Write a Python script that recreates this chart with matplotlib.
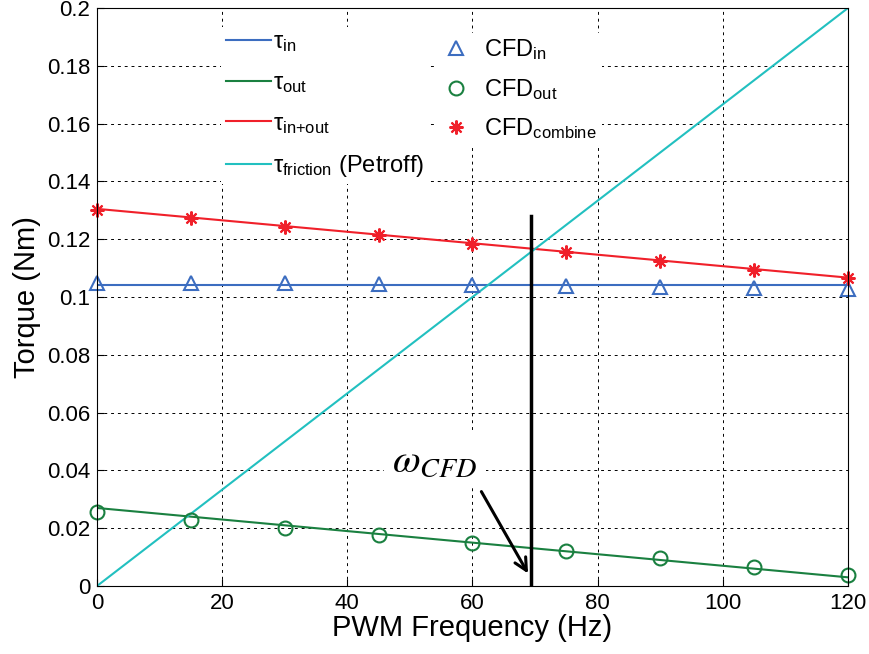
import numpy as np
import matplotlib
matplotlib.use('Agg')
import matplotlib.pyplot as plt
from matplotlib.lines import Line2D

plt.rcParams['font.family'] = ['Liberation Sans', 'DejaVu Sans']
plt.rcParams['mathtext.fontset'] = 'custom'
plt.rcParams['mathtext.rm'] = 'Liberation Sans'
plt.rcParams['mathtext.it'] = 'Liberation Sans'

# Linhas analíticas (extremos x=0 e x=120)
x_line = [0, 120]
tau_in = [0.104, 0.104]
tau_out = [0.027, 0.003]
tau_total = [0.1305, 0.1067]
tau_friction = [0.0, 0.2]

# Pontos CFD
x_cfd = [0, 15, 30, 45, 60, 75, 90, 105, 120]
cfd_in = [0.1050, 0.1050, 0.1047, 0.1045, 0.1043, 0.1037, 0.1033, 0.1030, 0.1026]
cfd_out = [0.0256, 0.0228, 0.0200, 0.0176, 0.0149, 0.0121, 0.0097, 0.0066, 0.0038]
cfd_comb = [0.1300, 0.1272, 0.1243, 0.1214, 0.1185, 0.1155, 0.1125, 0.1095, 0.1065]

# Marcação omega_CFD
omega_x = 69.4
omega_top = 0.128

C_BLUE = '#3C6DC0'
C_GREEN = '#1A8040'
C_RED = '#F0202A'
C_CYAN = '#22C0C0'

fig = plt.figure(figsize=(8.7, 6.54), dpi=100)
ax = fig.add_axes([97/870, 1-586/654, 751/870, 578/654])

ax.plot(x_line, tau_in, color=C_BLUE, lw=1.5)
ax.plot(x_line, tau_out, color=C_GREEN, lw=1.5)
ax.plot(x_line, tau_total, color=C_RED, lw=1.5)
ax.plot(x_line, tau_friction, color=C_CYAN, lw=1.5)

ax.plot(x_cfd, cfd_in, ls='none', marker='^', ms=10, mfc='none', mec=C_BLUE, mew=1.5, clip_on=False)
ax.plot(x_cfd, cfd_out, ls='none', marker='o', ms=10, mfc='none', mec=C_GREEN, mew=1.5, clip_on=False)
ax.plot(x_cfd, cfd_comb, ls='none', marker=(8, 2, 0), ms=10, mec=C_RED, mew=1.5, clip_on=False)

ax.plot([omega_x, omega_x], [0, omega_top], color='black', lw=2.5)
ax.annotate('', xy=(69.1, 0.0035), xytext=(61.2, 0.0335),
            arrowprops=dict(arrowstyle='->', color='black', lw=2.2, mutation_scale=22))
ax.text(54.0, 0.0435, r'$\omega_{CFD}$', math_fontfamily='stix', fontsize=29,
        ha='center', va='center', bbox=dict(facecolor='white', edgecolor='none', pad=6))

ax.set_xlim(0, 120)
ax.set_ylim(0, 0.2)
ax.set_xticks(np.arange(0, 121, 20))
ax.set_yticks(np.arange(0, 0.201, 0.02))
ax.set_yticklabels(['%g' % round(v, 2) for v in np.arange(0, 0.201, 0.02)])
ax.tick_params(direction='in', labelsize=16, length=5, pad=5)
ax.grid(True, color='black', ls=(0, (3, 4)), lw=0.7)
ax.set_xlabel('PWM Frequency (Hz)', fontsize=21, labelpad=0)
ax.set_ylabel('Torque (Nm)', fontsize=21, labelpad=4)

h_left = [Line2D([], [], color=c, lw=1.5) for c in (C_BLUE, C_GREEN, C_RED, C_CYAN)]
lab_left = [r'$\tau_{\mathrm{in}}$', r'$\tau_{\mathrm{out}}$', r'$\tau_{\mathrm{in{+}out}}$',
            r'$\tau_{\mathrm{friction}}$ (Petroff)']
leg1 = ax.legend(h_left, lab_left, loc='upper left', bbox_to_anchor=(0.150, 0.988),
                 fontsize=17, frameon=True, facecolor='white', edgecolor='none', framealpha=1,
                 fancybox=False, handlelength=1.9, handletextpad=0.1, labelspacing=0.75,
                 borderpad=0.2)
ax.add_artist(leg1)

h_right = [Line2D([], [], ls='none', marker='^', ms=10, mfc='none', mec=C_BLUE, mew=1.5),
           Line2D([], [], ls='none', marker='o', ms=10, mfc='none', mec=C_GREEN, mew=1.5),
           Line2D([], [], ls='none', marker=(8, 2, 0), ms=10, mec=C_RED, mew=1.5)]
lab_right = [r'CFD$_{\mathrm{in}}$', r'CFD$_{\mathrm{out}}$', r'CFD$_{\mathrm{combine}}$']
ax.legend(h_right, lab_right, loc='upper left', bbox_to_anchor=(0.437, 0.978),
          fontsize=17, frameon=True, facecolor='white', edgecolor='none', framealpha=1,
          fancybox=False, handlelength=1.2, handletextpad=0.6, labelspacing=0.62,
          borderpad=0.2)

fig.savefig('out.png', dpi=100)
